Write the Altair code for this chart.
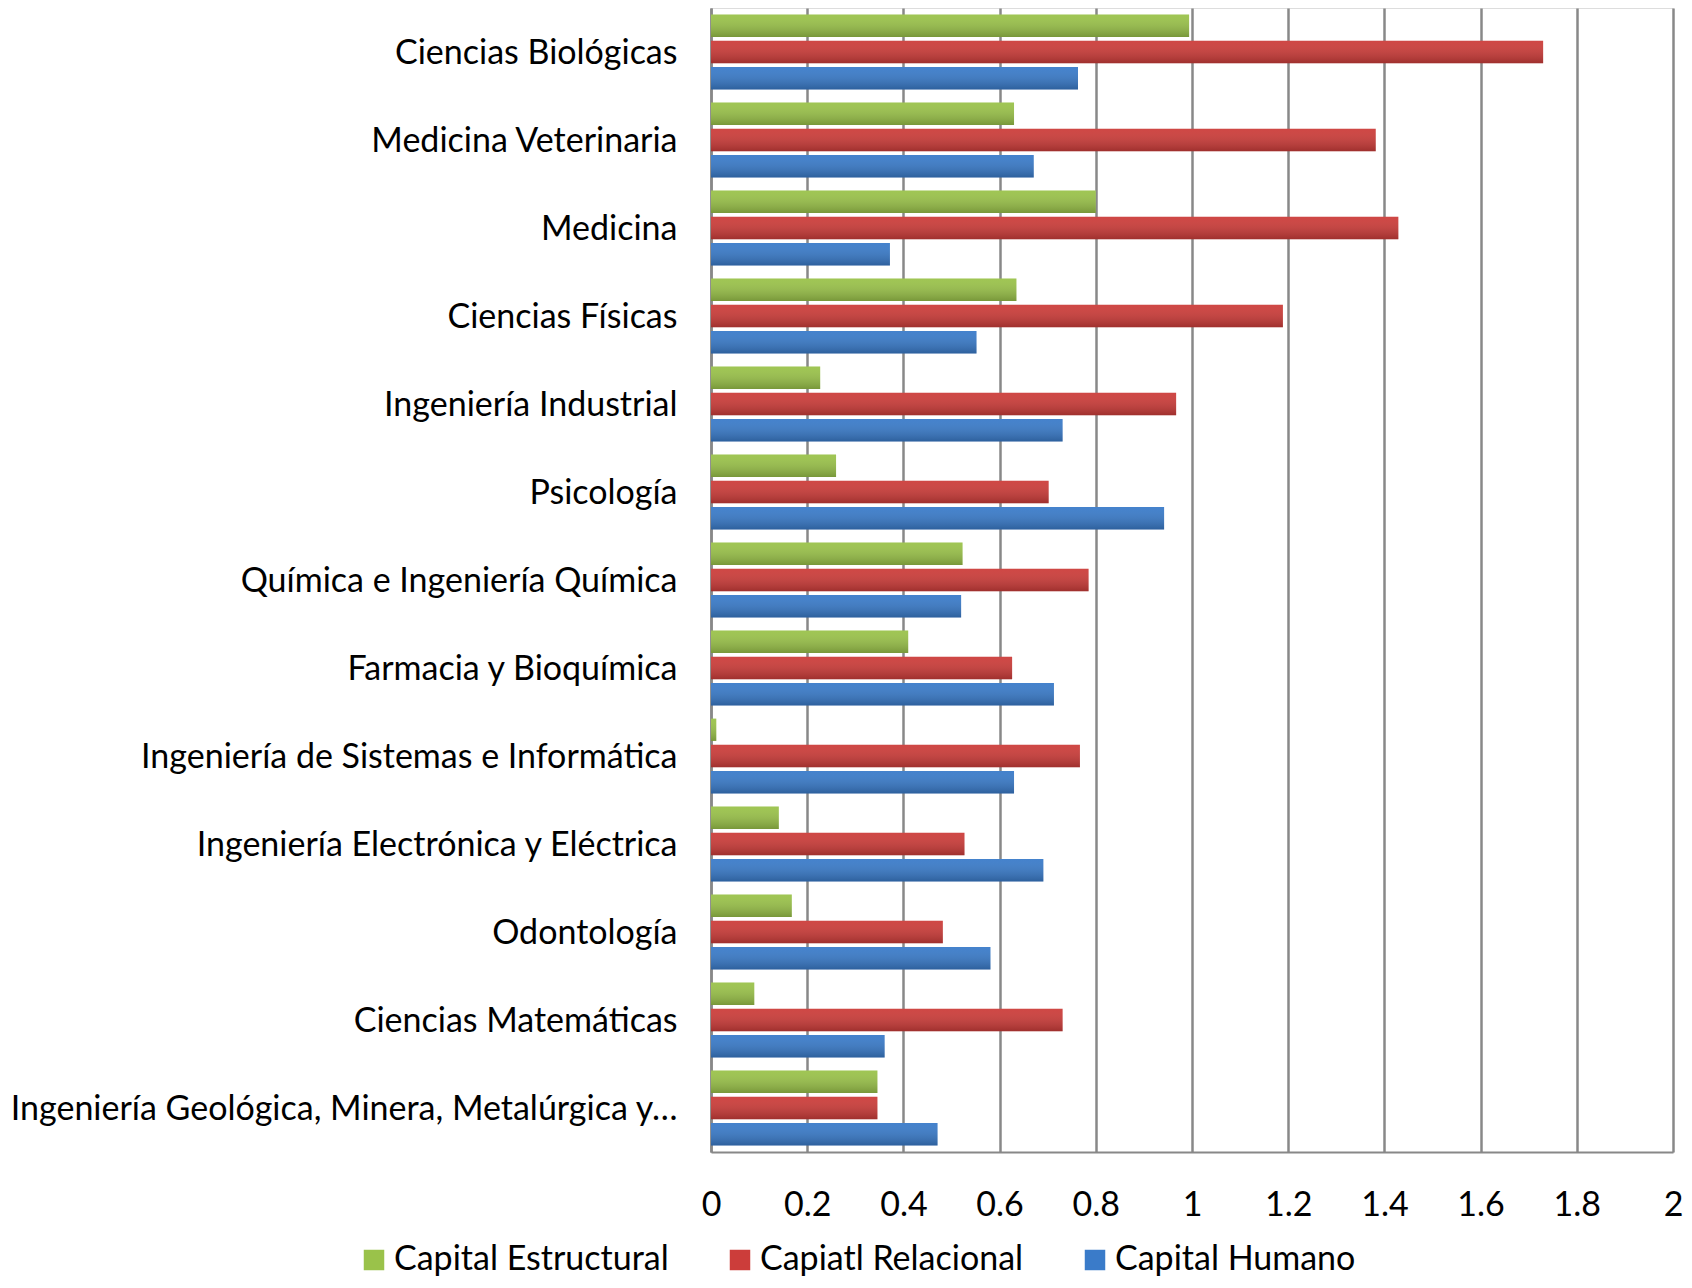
import altair as alt
import pandas as pd

categories = [
    "Ciencias Biológicas",
    "Medicina Veterinaria",
    "Medicina",
    "Ciencias Físicas",
    "Ingeniería Industrial",
    "Psicología",
    "Química e Ingeniería Química",
    "Farmacia y Bioquímica",
    "Ingeniería de Sistemas e Informática",
    "Ingeniería Electrónica y Eléctrica",
    "Odontología",
    "Ciencias Matemáticas",
    "Ingeniería Geológica, Minera, Metalúrgica y…",
]
series = ["Capital Estructural", "Capiatl Relacional", "Capital Humano"]
estructural = [0.994, 0.630, 0.800, 0.635, 0.227, 0.260, 0.523, 0.410, 0.011, 0.141, 0.168, 0.090, 0.346]
relacional = [1.730, 1.382, 1.429, 1.189, 0.967, 0.702, 0.785, 0.626, 0.767, 0.527, 0.482, 0.731, 0.346]
humano = [0.763, 0.671, 0.372, 0.552, 0.731, 0.942, 0.520, 0.713, 0.630, 0.691, 0.581, 0.361, 0.471]
colors = ["#9AC24A", "#CC3D3A", "#3A7BC9"]
x_ticks = [0, 0.2, 0.4, 0.6, 0.8, 1.0, 1.2, 1.4, 1.6, 1.8, 2.0]

rows = []
for i, cat in enumerate(categories):
    for s, vals in zip(series, [estructural, relacional, humano]):
        rows.append({"categoria": cat, "serie": s, "valor": vals[i]})
df = pd.DataFrame(rows)

FONT = "Lato"

x_enc = alt.X(
    "valor:Q",
    scale=alt.Scale(domain=[0, 2], nice=False),
    axis=alt.Axis(
        values=x_ticks,
        format="~g",
        title=None,
        grid=True,
        gridColor="#888888",
        gridWidth=2.5,
        domainColor="#888888",
        domainWidth=2,
        ticks=False,
        labelFlush=False,
        labelFont=FONT,
        labelFontSize=34,
        labelColor="#000000",
        labelPadding=36,
    ),
)
y_enc = alt.Y(
    "categoria:N",
    sort=categories,
    scale=alt.Scale(domain=categories, paddingInner=0.15, paddingOuter=0.075),
    axis=alt.Axis(
        title=None,
        ticks=False,
        grid=False,
        domainColor="#888888",
        domainWidth=2.5,
        labelFont=FONT,
        labelFontSize=34,
        labelColor="#000000",
        labelPadding=34,
        labelOffset=2,
        labelLimit=720,
    ),
)
yoff = alt.YOffset("serie:N", sort=series, scale=alt.Scale(domain=series, paddingInner=0.15))

bars = alt.Chart(df).mark_bar().encode(
    x=x_enc,
    y=y_enc,
    yOffset=yoff,
    color=alt.Color(
        "serie:N",
        scale=alt.Scale(domain=series, range=colors),
        legend=alt.Legend(
            title=None,
            orient="none",
            legendX=-354,
            legendY=1235,
            direction="horizontal",
            symbolType="square",
            symbolSize=420,
            symbolStrokeWidth=0,
            symbolOpacity=1,
            labelFont=FONT,
            labelFontSize=34,
            labelColor="#000000",
            labelOffset=3,
            columnPadding=54,
            labelLimit=400,
        ),
    ),
)

shade = alt.Chart(df).mark_bar(
    fill=alt.LinearGradient(
        gradient="linear",
        x1=0, x2=0, y1=0, y2=1,
        stops=[
            alt.GradientStop(offset=0, color="rgba(255,255,255,0.05)"),
            alt.GradientStop(offset=1, color="rgba(0,0,0,0.22)"),
        ],
    )
).encode(
    x="valor:Q",
    y=alt.Y("categoria:N", sort=categories),
    yOffset=alt.YOffset("serie:N", sort=series),
)

chart = (
    alt.layer(bars, shade)
    .properties(
        width=962,
        height=1144,
        autosize=alt.AutoSizeParams(type="none"),
        padding={"left": 703, "top": 0, "right": 11, "bottom": 128},
    )
    .configure_view(stroke=None)
    .configure(background="white")
)

chart.save("out.html", embed_options={"renderer": "svg", "actions": False})
